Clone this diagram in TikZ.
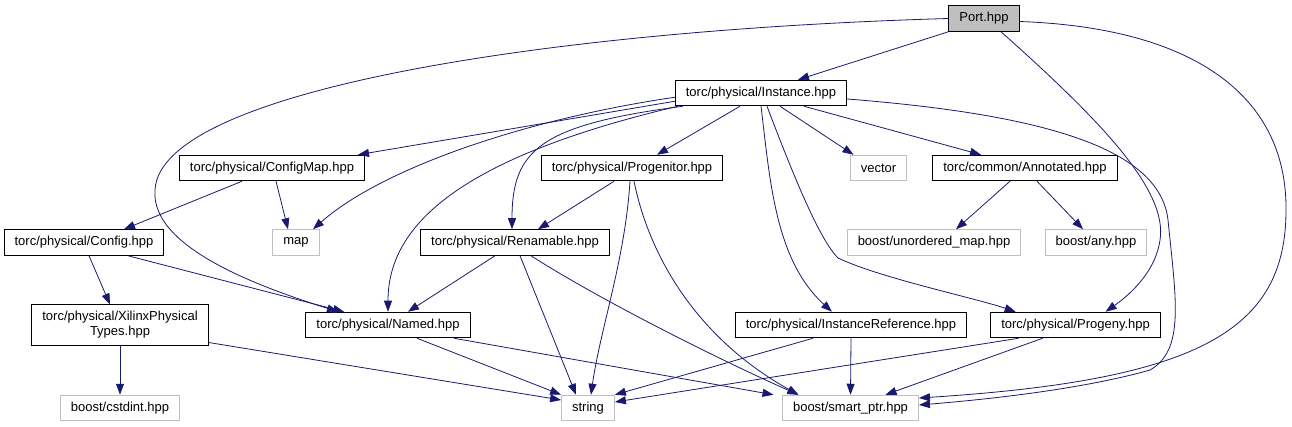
\documentclass[tikz,border=0pt]{standalone}
\usepackage{fontspec}
\setmainfont{Liberation Sans}
\usetikzlibrary{arrows.meta}

\definecolor{kante}{HTML}{191970}
\definecolor{grau}{HTML}{BFBFBF}

\begin{document}
\begin{tikzpicture}[x=1pt, y=-1pt,
      font=\fontsize{13}{15}\selectfont,
      file/.style={draw, line width=1pt, inner xsep=10.5pt, inner ysep=2pt, minimum height=25.5pt},
      ext/.style ={file, draw=grau},
      root/.style={file, fill=grau},
      dep/.style ={->, draw=kante, line width=0.8pt},
      >={Triangle[length=11pt, width=8pt]}
    ]
    \useasboundingbox (0,0) rectangle (1292,427);

    % Dateien, Zeile fuer Zeile
    \node[root] (port)       at (984,18.5)   {Port.hpp};
    \node[file] (inst)       at (761,93)     {torc/physical/Instance.hpp};

    \node[file] (cfgmap)     at (272,168)    {torc/physical/ConfigMap.hpp};
    \node[file] (progenitor) at (632,168)    {torc/physical/Progenitor.hpp};
    \node[ext]  (vector)     at (878.5,168)  {vector};
    \node[file] (annot)      at (1025,168)   {torc/common/Annotated.hpp};

    \node[file] (config)     at (84,242.5)   {torc/physical/Config.hpp};
    \node[ext]  (map)        at (296,242.5)  {map};
    \node[file] (renam)      at (515,242.5)  {torc/physical/Renamable.hpp};
    \node[ext]  (umap)       at (934,242.5)  {boost/unordered\_map.hpp};
    \node[ext]  (any)        at (1096,242.5) {boost/any.hpp};

    \node[file, align=center, minimum height=40pt] (xilinx) at (120,325)
      {torc/physical/XilinxPhysical\\Types.hpp};
    \node[file] (named)      at (388,325)    {torc/physical/Named.hpp};
    \node[file] (instref)    at (851,325)    {torc/physical/InstanceReference.hpp};
    \node[file] (progeny)    at (1075.6,325) {torc/physical/Progeny.hpp};

    \node[ext]  (cstdint)    at (120,408)    {boost/cstdint.hpp};
    \node[ext]  (string)     at (588,408)    {string};
    \node[ext]  (smartptr)   at (850.5,408)  {boost/smart\_ptr.hpp};

    % Port.hpp
    \draw[dep] (port.south west) -- ([xshift=37pt]inst.north);
    \draw[dep] (port.west) .. controls (550,30) and (160,90) .. (155,190)
      .. controls (150,250) and (270,290) .. ([xshift=-50pt]named.north);
    \draw[dep] ([xshift=17pt]port.south) .. controls (1100,120) and (1168,190) .. (1160,240)
      .. controls (1155,275) and (1125,298) .. ([xshift=30pt]progeny.north);
    \draw[dep] ([yshift=-3pt]port.east) .. controls (1200,28) and (1287,100) .. (1286,210)
      .. controls (1286,330) and (1200,380) .. ([yshift=10pt]smartptr.east);

    % Instance.hpp
    \draw[dep] ([yshift=5pt]inst.south west) -- ([xshift=-7pt]cfgmap.north east);
    \draw[dep] ([yshift=9pt]inst.south west) .. controls (520,120) and (380,170) .. ([xshift=17pt]map.north);
    \draw[dep] ([xshift=3pt]inst.south west) .. controls (450,160) and (388,230) .. (named.north);
    \draw[dep] ([xshift=8pt]inst.south west) .. controls (540,125) and (512,150) .. ([xshift=-3pt]renam.north);
    \draw[dep] ([xshift=-21pt]inst.south) -- ([xshift=25pt]progenitor.north);
    \draw[dep] ([xshift=19pt]inst.south) -- ([xshift=-25pt]vector.north);
    \draw[dep] ([xshift=43pt]inst.south) -- ([xshift=-44pt]annot.north);
    \draw[dep] (inst.south) .. controls (770,180) and (775,260) .. ([xshift=-19pt]instref.north);
    \draw[dep] ([xshift=6pt]inst.south) .. controls (795,180) and (820,240) .. (838,258)
      .. controls (880,278) and (975,298) .. ([xshift=-60pt]progeny.north);
    \draw[dep] ([yshift=-6pt]inst.east) .. controls (1050,115) and (1160,150) .. (1168,220)
      .. controls (1176,300) and (1185,350) .. (1150,370)
      .. controls (1080,390) and (980,400) .. ([yshift=3pt]smartptr.east);

    % ConfigMap, Config
    \draw[dep] ([xshift=-30pt]cfgmap.south) -- ([xshift=40pt]config.north);
    \draw[dep] ([xshift=4pt]cfgmap.south) -- ([xshift=-8pt]map.north);
    \draw[dep] ([xshift=5pt]config.south) -- ([xshift=-10pt]xilinx.north);
    \draw[dep] ([xshift=44pt]config.south) -- ([xshift=-44pt]named.north);

    % Progenitor, Renamable, Annotated
    \draw[dep] ([xshift=-18pt]progenitor.south) -- ([xshift=23pt]renam.north);
    \draw[dep] ([xshift=-2pt]progenitor.south) .. controls (625,260) and (600,330) .. ([xshift=3pt]string.north);
    \draw[dep] ([xshift=2pt]progenitor.south) .. controls (650,260) and (700,340) .. ([xshift=-52pt]smartptr.north);
    \draw[dep] ([xshift=-20pt]renam.south) -- ([xshift=20pt]named.north);
    \draw[dep] ([xshift=5pt]renam.south) -- ([xshift=-12pt]string.north);
    \draw[dep] ([xshift=16pt]renam.south) .. controls (600,300) and (720,360) .. ([xshift=-52pt]smartptr.north);
    \draw[dep] ([xshift=-15pt]annot.south) -- ([xshift=22pt]umap.north);
    \draw[dep] ([xshift=12pt]annot.south) -- ([xshift=-13pt]any.north);

    % untere Zeile
    \draw[dep] (xilinx.south) -- (cstdint.north);
    \draw[dep] ([yshift=3pt]xilinx.south east) -- ([yshift=8pt]string.west);
    \draw[dep] ([xshift=29pt]named.south) -- (string.north west);
    \draw[dep] ([xshift=66pt]named.south) -- ([xshift=-77pt]smartptr.north);
    \draw[dep] ([xshift=-38pt]instref.south) -- (string.north east);
    \draw[dep] (instref.south) -- (smartptr.north);
    \draw[dep] ([xshift=-57pt]progeny.south) -- ([yshift=6pt]string.east);
    \draw[dep] ([xshift=-33pt]progeny.south) -- ([xshift=35pt]smartptr.north);
  \end{tikzpicture}
\end{document}
